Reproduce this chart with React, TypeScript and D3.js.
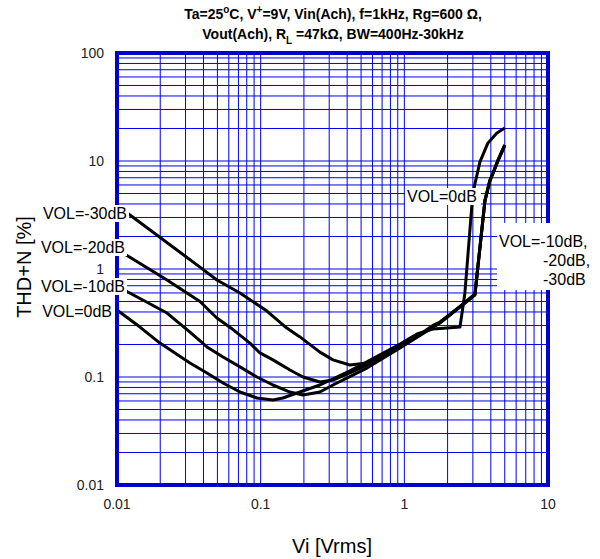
import { useEffect, useRef } from 'react';
import * as d3 from 'd3';

type Pt = [number, number]; // [Vi in Vrms, THD+N in %]

// axis ticks
const xTickValues = [0.01, 0.1, 1, 10];
const xTickLabels = ['0.01', '0.1', '1', '10'];
const yTickValues = [0.01, 0.1, 1, 10, 100];
const yTickLabels = ['0.01', '0.1', '1', '10', '100'];

// curves
const vol0dB: Pt[] = [
  [0.01, 0.417], [0.01445, 0.29], [0.0199, 0.206], [0.0322, 0.135], [0.0423, 0.109],
  [0.0547, 0.088], [0.0718, 0.0726], [0.0942, 0.0639], [0.1218, 0.0612], [0.1429, 0.0639],
  [0.1789, 0.0711], [0.2586, 0.0843], [0.418, 0.114], [0.549, 0.138], [0.933, 0.202],
  [1.224, 0.25], [1.58, 0.278], [1.98, 0.284], [2.44, 0.29], [2.64, 0.6], [3.0, 5.06],
  [3.36, 9.8], [3.82, 14.7], [4.41, 18.2], [5.0, 20.2],
];
const vol10dB: Pt[] = [
  [0.01, 0.7], [0.0119, 0.612], [0.0223, 0.391], [0.0322, 0.26], [0.0423, 0.19],
  [0.0547, 0.153], [0.0718, 0.124], [0.0942, 0.1], [0.1218, 0.0843], [0.16, 0.0726],
  [0.197, 0.0681], [0.2586, 0.0726], [0.3185, 0.0843], [0.549, 0.121], [0.933, 0.186],
  [1.77, 0.316], [2.08, 0.375], [2.44, 0.445], [3.1, 0.574], [3.64, 4.35], [3.94, 6.67],
  [4.14, 7.74], [4.48, 10.2], [5.0, 14.1],
];
const vol20dB: Pt[] = [
  [0.01, 1.53], [0.0119, 1.32], [0.0223, 0.79], [0.0378, 0.5], [0.0496, 0.352],
  [0.0642, 0.275], [0.0842, 0.206], [0.0989, 0.167], [0.1218, 0.144], [0.16, 0.116],
  [0.197, 0.1], [0.2586, 0.09], [0.3185, 0.0938], [0.418, 0.109], [0.549, 0.129],
  [0.933, 0.19], [1.77, 0.32], [2.08, 0.378], [2.44, 0.447], [3.1, 0.58], [3.64, 4.3],
  [3.94, 6.6], [4.14, 7.7], [4.48, 10.1], [5.0, 14.0],
];
const vol30dB: Pt[] = [
  [0.01, 3.9], [0.0123, 3.16], [0.017, 2.3], [0.0245, 1.6], [0.0378, 1.04],
  [0.0496, 0.79], [0.0718, 0.6], [0.1106, 0.408], [0.152, 0.284], [0.1877, 0.235],
  [0.2586, 0.17], [0.3185, 0.144], [0.418, 0.129], [0.549, 0.135], [0.757, 0.163],
  [1.043, 0.206], [1.58, 0.3], [1.77, 0.323], [2.08, 0.382], [2.44, 0.45], [3.1, 0.587],
  [3.64, 4.25], [3.94, 6.5], [4.48, 9.95], [5.0, 13.8],
];

const FONT = '"Liberation Sans", Arial, sans-serif';

export default function App() {
  const ref = useRef<SVGSVGElement>(null);

  useEffect(() => {
    const svg = d3.select(ref.current);
    svg.selectAll('*').remove();

    const x = d3.scaleLog().domain([0.01, 10]).range([117, 548]);
    const y = d3.scaleLog().domain([0.01, 100]).range([485, 53]);

    // grid: 1..9 in every decade
    const grid = svg.append('g').attr('stroke', '#0000ee').attr('stroke-width', 1);
    grid.selectAll('line.v')
      .data(x.ticks())
      .join('line')
      .attr('x1', d => x(d)).attr('x2', d => x(d))
      .attr('y1', 53).attr('y2', 485);
    grid.selectAll('line.h')
      .data(y.ticks())
      .join('line')
      .attr('x1', 117).attr('x2', 548)
      .attr('y1', d => y(d)).attr('y2', d => y(d));

    // curves
    const line = d3.line<Pt>().x(d => x(d[0])).y(d => y(d[1]));
    [vol0dB, vol10dB, vol20dB, vol30dB].forEach(s => {
      svg.append('path')
        .attr('d', line(s))
        .attr('fill', 'none')
        .attr('stroke', '#000')
        .attr('stroke-width', 3)
        .attr('stroke-linejoin', 'round');
    });

    // frame
    svg.append('rect')
      .attr('x', 117).attr('y', 53).attr('width', 431).attr('height', 432)
      .attr('fill', 'none').attr('stroke', '#0000cc').attr('stroke-width', 4);

    // tick labels
    svg.selectAll('text.xt')
      .data(xTickValues)
      .join('text')
      .attr('x', d => x(d)).attr('y', 509)
      .attr('text-anchor', 'middle')
      .attr('font-family', FONT).attr('font-size', 14).attr('fill', '#222')
      .text((_, i) => xTickLabels[i]);
    svg.selectAll('text.yt')
      .data(yTickValues)
      .join('text')
      .attr('x', 104).attr('y', d => y(d) + 5)
      .attr('text-anchor', 'end')
      .attr('font-family', FONT).attr('font-size', 14).attr('fill', '#222')
      .text((_, i) => yTickLabels[i]);

    // labels on white boxes
    const boxed = (lines: { t: string; x: number; y: number; anchor: string }[], pad: number[]) => {
      const g = svg.append('g');
      const rect = g.append('rect').attr('fill', '#fff');
      lines.forEach(l => {
        g.append('text')
          .attr('x', l.x).attr('y', l.y)
          .attr('text-anchor', l.anchor)
          .attr('font-family', FONT).attr('font-size', 16).attr('fill', '#000')
          .text(l.t);
      });
      const bb = (g.node() as SVGGElement).getBBox();
      rect.attr('x', bb.x - pad[3]).attr('y', bb.y - pad[0])
        .attr('width', bb.width + pad[1] + pad[3])
        .attr('height', bb.height + pad[0] + pad[2]);
    };
    boxed([{ t: 'VOL=-30dB', x: 127, y: 219, anchor: 'end' }], [0, 2, 0, 2]);
    boxed([{ t: 'VOL=-20dB', x: 125, y: 253, anchor: 'end' }], [0, 2, 0, 2]);
    boxed([{ t: 'VOL=-10dB', x: 125, y: 292, anchor: 'end' }], [0, 2, 0, 2]);
    boxed([{ t: 'VOL=0dB', x: 112, y: 317, anchor: 'end' }], [0, 2, 0, 2]);
    boxed([{ t: 'VOL=0dB', x: 407, y: 202, anchor: 'start' }], [0, 4, 0, 2]);
    boxed([
      { t: 'VOL=-10dB,', x: 499, y: 247, anchor: 'start' },
      { t: '-20dB,', x: 543, y: 266, anchor: 'start' },
      { t: '-30dB', x: 543, y: 285, anchor: 'start' },
    ], [10, 12, 2, 2]);

    // title
    const t1 = svg.append('text')
      .attr('x', 333).attr('y', 19)
      .attr('text-anchor', 'middle')
      .attr('font-family', FONT).attr('font-size', 14).attr('font-weight', 'bold');
    t1.append('tspan').text('Ta=25');
    t1.append('tspan').attr('dy', -6).attr('font-size', 10).text('o');
    t1.append('tspan').attr('dy', 6).text('C, V');
    t1.append('tspan').attr('dy', -6).attr('font-size', 10).text('+');
    t1.append('tspan').attr('dy', 6).text('=9V, Vin(Ach), f=1kHz, Rg=600 Ω,');

    const t2 = svg.append('text')
      .attr('x', 333).attr('y', 39)
      .attr('text-anchor', 'middle')
      .attr('font-family', FONT).attr('font-size', 14).attr('font-weight', 'bold');
    t2.append('tspan').text('Vout(Ach), R');
    t2.append('tspan').attr('dy', 5).attr('font-size', 10).text('L');
    t2.append('tspan').attr('dy', -5).text(' =47kΩ, BW=400Hz-30kHz');

    // axis titles
    svg.append('text')
      .attr('transform', 'translate(31,267) rotate(-90)')
      .attr('text-anchor', 'middle')
      .attr('font-family', FONT).attr('font-size', 20)
      .text('THD+N [%]');
    svg.append('text')
      .attr('x', 332).attr('y', 553)
      .attr('text-anchor', 'middle')
      .attr('font-family', FONT).attr('font-size', 20)
      .text('Vi [Vrms]');
  }, []);

  return (
    <svg
      ref={ref}
      width={600}
      height={559}
      style={{ position: 'absolute', left: 0, top: 0, background: '#fff' }}
    />
  );
}
